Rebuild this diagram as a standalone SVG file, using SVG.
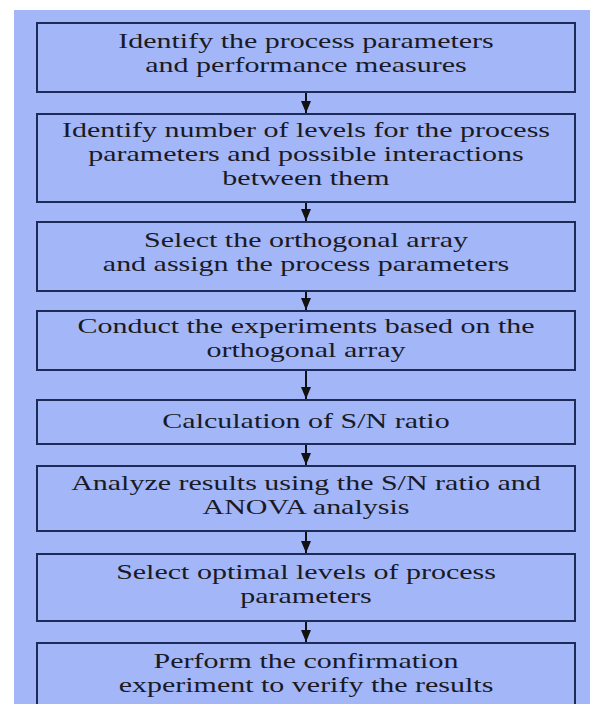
<svg xmlns="http://www.w3.org/2000/svg" width="590" height="704" viewBox="0 0 590 704">
  <defs>
    <marker id="head" viewBox="0 0 12 10" refX="12" refY="5" markerWidth="12" markerHeight="10" markerUnits="userSpaceOnUse" orient="auto">
      <path d="M0,0 L12,5 L0,10 Z" fill="#111"/>
    </marker>
  </defs>
  <style>
    .step { fill: #a3b6f8; stroke: #1e2b58; stroke-width: 2; }
    .label { font-family: "Liberation Serif", "Times New Roman", serif; font-size: 20px; fill: #1a1a24; text-anchor: middle; }
    .link { stroke: #111; stroke-width: 2; fill: none; marker-end: url(#head); }
  </style>
  <rect x="0" y="0" width="590" height="704" fill="#ffffff"/>
  <rect x="14" y="10" width="576" height="694" fill="#a3b6f8"/>

  <g id="connectors">
    <line class="link" x1="306" y1="93" x2="306" y2="113"/>
    <line class="link" x1="306" y1="203" x2="306" y2="221"/>
    <line class="link" x1="306" y1="292" x2="306" y2="310"/>
    <line class="link" x1="306" y1="371" x2="306" y2="399"/>
    <line class="link" x1="306" y1="445" x2="306" y2="465"/>
    <line class="link" x1="306" y1="532" x2="306" y2="553"/>
    <line class="link" x1="306" y1="622" x2="306" y2="642"/>
  </g>

  <g id="step1">
    <rect class="step" x="37" y="23" width="538" height="69"/>
    <g transform="translate(306 0) scale(1.5 1)">
      <text class="label" x="0" y="48.5">Identify the process parameters</text>
      <text class="label" x="0" y="72.5">and performance measures</text>
    </g>
  </g>

  <g id="step2">
    <rect class="step" x="37" y="114" width="538" height="88"/>
    <g transform="translate(306 0) scale(1.5 1)">
      <text class="label" x="0" y="137">Identify number of levels for the process</text>
      <text class="label" x="0" y="161">parameters and possible interactions</text>
      <text class="label" x="0" y="185">between them</text>
    </g>
  </g>

  <g id="step3">
    <rect class="step" x="37" y="222" width="538" height="69"/>
    <g transform="translate(306 0) scale(1.5 1)">
      <text class="label" x="0" y="247.5">Select the orthogonal array</text>
      <text class="label" x="0" y="271.5">and assign the process parameters</text>
    </g>
  </g>

  <g id="step4">
    <rect class="step" x="37" y="311" width="538" height="59"/>
    <g transform="translate(306 0) scale(1.5 1)">
      <text class="label" x="0" y="333">Conduct the experiments based on the</text>
      <text class="label" x="0" y="357">orthogonal array</text>
    </g>
  </g>

  <g id="step5">
    <rect class="step" x="37" y="400" width="538" height="44"/>
    <g transform="translate(306 0) scale(1.5 1)">
      <text class="label" x="0" y="428">Calculation of S/N ratio</text>
    </g>
  </g>

  <g id="step6">
    <rect class="step" x="37" y="466" width="538" height="65"/>
    <g transform="translate(306 0) scale(1.5 1)">
      <text class="label" x="0" y="490">Analyze results using the S/N ratio and</text>
      <text class="label" x="0" y="514">ANOVA analysis</text>
    </g>
  </g>

  <g id="step7">
    <rect class="step" x="37" y="554" width="538" height="67"/>
    <g transform="translate(306 0) scale(1.5 1)">
      <text class="label" x="0" y="579">Select optimal levels of process</text>
      <text class="label" x="0" y="603">parameters</text>
    </g>
  </g>

  <g id="step8">
    <rect class="step" x="37" y="643" width="538" height="80"/>
    <g transform="translate(306 0) scale(1.5 1)">
      <text class="label" x="0" y="668">Perform the confirmation</text>
      <text class="label" x="0" y="692">experiment to verify the results</text>
    </g>
  </g>
</svg>
